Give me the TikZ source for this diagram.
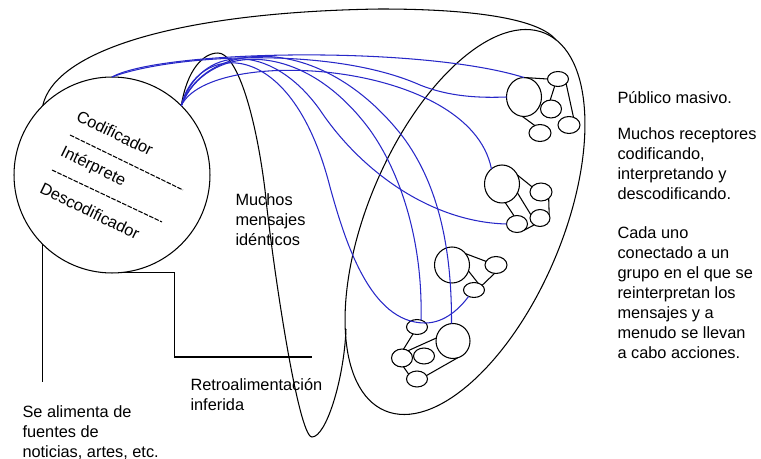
\documentclass[tikz,border=0pt]{standalone}
\usepackage{fontspec}
\setmainfont{Liberation Sans}
\usetikzlibrary{shapes.geometric}
\definecolor{msgblue}{RGB}{40,40,200}
\begin{document}
\begin{tikzpicture}[x=0.02cm, y=-0.02cm, line width=0.6pt,
  txtfont/.style={font=\fontsize{9.3}{11.4}\selectfont},
  txt/.style={txtfont, inner sep=0, align=left, anchor=north west},
  rtxt/.style={txtfont, inner sep=0, rotate=-26},
  blob/.style={ellipse, draw, inner sep=0, outer sep=0},
  dashline/.style={dash pattern=on 2.6pt off 0.8pt},
  msg/.style={draw=msgblue, line width=0.6pt}]
\useasboundingbox (0,0) rectangle (761,459);

% sender circle
\node[circle, draw, minimum size=3.92cm, inner sep=0, outer sep=0] (C) at (112,175) {};
\node[rtxt] (cod) at (115,133) {Codificador};
\node[rtxt] (int) at (93,167) {Intérprete};
\node[rtxt] (desc) at (90,211) {Descodificador};
\coordinate (d1a) at (70,135); \coordinate (d1b) at (183,190);
\coordinate (d2a) at (52,170); \coordinate (d2b) at (162,222);
\draw[dashline] (d1a) -- (d1b);
\draw[dashline] (d2a) -- (d2b);

% mass audience ellipse
\draw[rotate around={67:(465,222)}] (465,222) ellipse [x radius=205, y radius=97];
\coordinate (bj) at (556,40);
\coordinate (jn) at (346,329);

% outer arc
\draw (C.135) .. controls (55,50) and (180,12) .. (380,9) .. controls (480,9) and (540,20) .. (bj);

% narrow loop of messages
\draw (C.45) .. controls (187,70) and (203,53) .. (218,53)
  .. controls (236,53) and (255,110) .. (265,190)
  .. controls (272,260) and (298,437) .. (312,437)
  .. controls (326,437) and (344,380) .. (jn);

% group 1
\node[blob, minimum width=0.70cm, minimum height=0.78cm] (g1b) at (524,97) {};
\node[blob, minimum width=0.42cm, minimum height=0.30cm] (g1t) at (558,79) {};
\node[blob, minimum width=0.42cm, minimum height=0.36cm] (g1m) at (551,109) {};
\node[blob, minimum width=0.44cm, minimum height=0.34cm] (g1r) at (569,125) {};
\node[blob, minimum width=0.44cm, minimum height=0.34cm] (g1d) at (540,133) {};
\draw (g1b.north) -- (g1t.west);
\draw (g1t.245) -- (g1m.95);
\draw (g1t.-30) -- (g1r.60);
\draw (g1b.-95) -- (g1d.125);

% group 2
\node[blob, minimum width=0.70cm, minimum height=0.76cm] (g2b) at (502,184) {};
\node[blob, minimum width=0.44cm, minimum height=0.36cm] (g2r) at (541,192) {};
\node[blob, minimum width=0.40cm, minimum height=0.34cm] (g2br) at (540,218) {};
\node[blob, minimum width=0.42cm, minimum height=0.34cm] (g2bl) at (517,224) {};
\draw (g2b.30) -- (g2r.150);
\draw (g2b.-30) -- (g2br.160);
\draw (g2b.-80) -- (g2bl.110);
\draw (g2r.-40) -- (g2br.20);
\draw (g2bl.-40) -- (g2br.-130);

% group 3
\node[blob, minimum width=0.70cm, minimum height=0.72cm] (g3b) at (452,265) {};
\node[blob, minimum width=0.44cm, minimum height=0.34cm] (g3r) at (496,265) {};
\node[blob, minimum width=0.42cm, minimum height=0.30cm] (g3d) at (474,290) {};
\draw (g3b.40) -- (g3r.160);
\draw (g3b.-20) -- (g3d.60);
\draw (g3r.-100) -- (g3d.30);

% group 4
\node[blob, minimum width=0.42cm, minimum height=0.30cm] (g4t) at (417,327) {};
\node[blob, minimum width=0.68cm, minimum height=0.70cm] (g4b) at (453,341) {};
\node[blob, minimum width=0.42cm, minimum height=0.36cm] (g4l) at (402,358) {};
\node[blob, minimum width=0.42cm, minimum height=0.32cm] (g4m) at (424,356) {};
\node[blob, minimum width=0.42cm, minimum height=0.32cm] (g4d) at (417,379) {};
\draw (g4t.-120) -- (g4l.80);
\draw (g4l.50) -- (g4b.170);
\draw (g4l.-80) -- (g4d.150);
\draw (g4d.20) -- (g4b.-75);

% messages (blue)
\draw[msg] (C.north) .. controls (160,50) and (420,45) .. (g1b.north);
\draw[msg] (C.north) .. controls (170,55) and (330,45) .. (420,85) .. controls (450,97) and (480,98) .. (g1b.west);
\draw[msg] (C.45) .. controls (210,45) and (470,60) .. (g2b.125);
\draw[msg] (C.45) .. controls (200,45) and (270,40) .. (320,110) .. controls (360,170) and (430,222) .. (g2bl.west);
\draw[msg] (C.45) .. controls (205,45) and (300,35) .. (370,130) .. controls (400,172) and (423,240) .. (g4t.60);
\draw[msg] (C.45) .. controls (205,40) and (320,30) .. (403,137) .. controls (435,180) and (452,240) .. (g4b.95);
\draw[msg] (C.45) .. controls (195,45) and (290,30) .. (330,187) .. controls (345,241) and (370,323) .. (425,323) .. controls (445,323) and (460,308) .. (g3d.-130);

% feedback and sources
\coordinate (fbend) at (312,357);
\coordinate (src) at (43,382);
\draw (C.-86) -- ++(56,0) |- (fbend);
\draw (C.225) -- (C.225 |- src);

% texts
\node[txt] (t1) at (235,191) {\strut Muchos\\mensajes\\idénticos};
\node[txt] (t2) at (190,376) {\strut Retroalimentación\\inferida};
\node[txt] (t3) at (22,403) {\strut Se alimenta de\\fuentes de\\noticias, artes, etc.};
\node[txt] (t4) at (617,89) {\strut Público masivo.};
\node[txt] (t5) at (617,125) {\strut Muchos receptores\\codificando,\\interpretando y\\descodificando.};
\node[txt] (t6) at (617,224) {\strut Cada uno\\conectado a un\\grupo en el que se\\reinterpretan los\\mensajes y a\\menudo se llevan\\a cabo acciones.};
\end{tikzpicture}
\end{document}
